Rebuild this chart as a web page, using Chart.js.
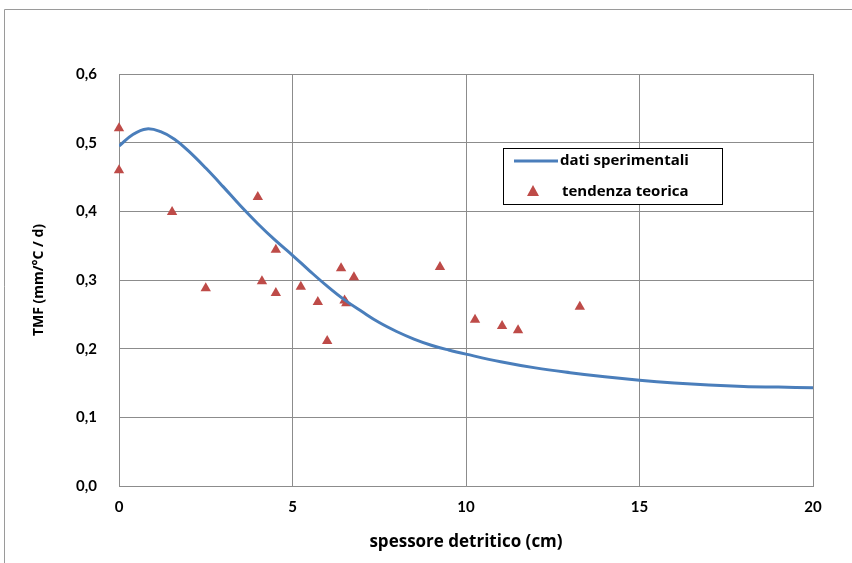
<!DOCTYPE html>
<html>
<head>
<meta charset="utf-8">
<script src="https://cdn.jsdelivr.net/npm/chart.js@4.4.1/dist/chart.umd.min.js"></script>
<style>
  html, body { margin: 0; padding: 0; background: #fff; }
  #wrap { width: 852px; height: 563px; position: relative; }
</style>
</head>
<body>
<div id="wrap"><canvas id="graphCanvas"></canvas></div>
<script>
// curve: dati sperimentali
var curveX = [0, 0.4, 0.8, 1.2, 1.6, 2, 2.5, 3, 3.5, 4, 4.5, 5, 5.5, 6, 6.5, 7, 7.5, 8, 8.5, 9, 9.5, 10, 11, 12, 13, 14, 15, 16, 17, 18, 19, 20];
var curveY = [0.495, 0.512, 0.520, 0.516, 0.505, 0.488, 0.463, 0.436, 0.408, 0.382, 0.358, 0.336, 0.313, 0.291, 0.271, 0.254, 0.238, 0.225, 0.214, 0.205, 0.198, 0.192, 0.181, 0.172, 0.165, 0.159, 0.154, 0.150, 0.147, 0.145, 0.144, 0.143];

// markers: tendenza teorica
var pointsX = [0, 0, 1.53, 2.5, 4.0, 4.12, 4.52, 4.52, 5.24, 5.73, 6.0, 6.4, 6.5, 6.55, 6.77, 9.25, 10.26, 11.04, 11.5, 13.28];
var pointsY = [0.521, 0.460, 0.399, 0.288, 0.421, 0.298, 0.344, 0.281, 0.290, 0.268, 0.211, 0.317, 0.270, 0.266, 0.304, 0.319, 0.242, 0.233, 0.227, 0.261];

var xTicks = [0, 5, 10, 15, 20];
var yTicks = [0, 0.1, 0.2, 0.3, 0.4, 0.5, 0.6];

var lineName = 'dati sperimentali';
var markName = 'tendenza teorica';
var xTitle = 'spessore detritico (cm)';
var yTitle = 'TMF (mm/°C / d)';

var lineColor = '#4a7ebb';
var markColor = '#be4b48';
var gridColor = '#8c8c8c';

function toXY(xs, ys) {
    var out = [];
    for (var i in xs) {
        out.push({ x: xs[i], y: ys[i] });
    }
    return out;
}

// outer frame + boxed legend in the plot
var framePlugin = {
    id: 'frame',
    beforeDraw: function (chart) {
        var ctx = chart.ctx;
        ctx.save();
        ctx.strokeStyle = '#9a9a9a';
        ctx.lineWidth = 1;
        ctx.beginPath();
        ctx.moveTo(4.5, 600);
        ctx.lineTo(4.5, 9.5);
        ctx.lineTo(900, 9.5);
        ctx.stroke();
        ctx.restore();
    },
    afterDraw: function (chart) {
        var ctx = chart.ctx;
        var bx = 503, by = 148, bw = 219, bh = 56;
        ctx.save();
        ctx.fillStyle = '#fff';
        ctx.fillRect(bx, by, bw, bh);
        ctx.strokeStyle = '#000';
        ctx.lineWidth = 1;
        ctx.strokeRect(bx + 0.5, by + 0.5, bw, bh);

        ctx.strokeStyle = lineColor;
        ctx.lineWidth = 3;
        ctx.beginPath();
        ctx.moveTo(514, 161);
        ctx.lineTo(558, 161);
        ctx.stroke();

        ctx.fillStyle = markColor;
        ctx.beginPath();
        ctx.moveTo(533, 185);
        ctx.lineTo(539, 196);
        ctx.lineTo(527, 196);
        ctx.closePath();
        ctx.fill();

        ctx.fillStyle = '#000';
        ctx.font = 'bold 15px "Open Sans"';
        ctx.textBaseline = 'middle';
        ctx.textAlign = 'left';
        ctx.fillText(lineName, 560, 161);
        ctx.fillText(markName, 562, 192);
        ctx.restore();
    }
};

var chartdata = {
    datasets: [
        {
            type: 'line',
            label: lineName,
            data: toXY(curveX, curveY),
            borderColor: lineColor,
            backgroundColor: lineColor,
            borderWidth: 3,
            pointRadius: 0,
            tension: 0.4,
            fill: false
        },
        {
            type: 'scatter',
            label: markName,
            data: toXY(pointsX, pointsY),
            pointStyle: 'triangle',
            pointRadius: 6,
            backgroundColor: markColor,
            borderColor: markColor,
            borderWidth: 0,
            clip: false
        }
    ]
};

var graphTarget = document.getElementById('graphCanvas');
var graph = new Chart(graphTarget, {
    type: 'scatter',
    data: chartdata,
    plugins: [framePlugin],
    options: {
        responsive: true,
        maintainAspectRatio: false,
        animation: false,
        layout: { padding: { top: 74, right: 39, left: 0, bottom: 0 } },
        plugins: {
            legend: { display: false },
            tooltip: { enabled: false }
        },
        scales: {
            x: {
                type: 'linear',
                min: 0,
                max: 20,
                afterBuildTicks: function (scale) {
                    scale.ticks = xTicks.map(function (v) { return { value: v }; });
                },
                afterFit: function (scale) { scale.height = 77; },
                ticks: {
                    color: '#000',
                    font: { family: 'Lato', size: 15, weight: 'bold' },
                    padding: 12,
                    maxRotation: 0
                },
                grid: { color: gridColor, drawTicks: false },
                border: { color: gridColor },
                title: {
                    display: true,
                    text: xTitle,
                    color: '#000',
                    font: { family: 'Open Sans', size: 17, weight: 'bold' },
                    padding: { top: 0, bottom: 11 }
                }
            },
            y: {
                type: 'linear',
                min: 0,
                max: 0.6,
                afterBuildTicks: function (scale) {
                    scale.ticks = yTicks.map(function (v) { return { value: v }; });
                },
                afterFit: function (scale) { scale.width = 119; },
                ticks: {
                    color: '#000',
                    font: { family: 'Lato', size: 15, weight: 'bold' },
                    padding: 22,
                    callback: function (v) { return v.toFixed(1).replace('.', ','); }
                },
                grid: { color: gridColor, drawTicks: false },
                border: { color: gridColor },
                title: {
                    display: true,
                    text: yTitle,
                    color: '#000',
                    font: { family: 'Open Sans', size: 14, weight: 'bold' },
                    padding: { top: 31, bottom: 0 }
                }
            }
        }
    }
});
</script>
</body>
</html>
